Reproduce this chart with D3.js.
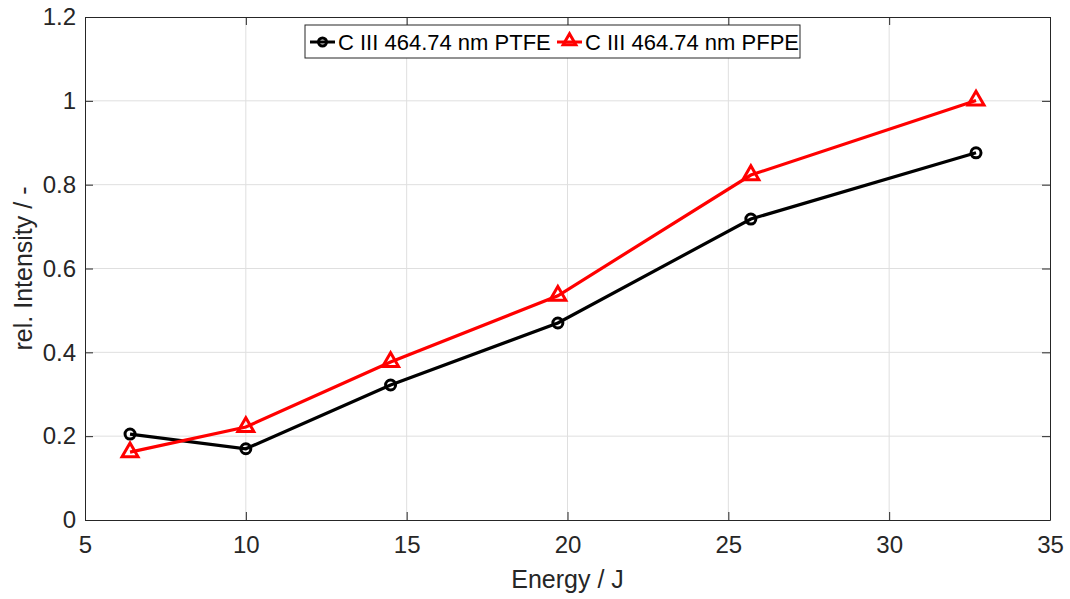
<!DOCTYPE html>
<html>
<head>
<meta charset="utf-8">
<script src="https://cdn.jsdelivr.net/npm/d3@7"></script>
<style>
  body { margin: 0; background: #fff; }
  svg { font-family: "Liberation Sans", Arial, sans-serif; }
</style>
</head>
<body>
<div id="chart"></div>
<script>
// data
const energy = [6.4, 10, 14.5, 19.7, 25.7, 32.7];
const ptfe = [0.205, 0.170, 0.322, 0.470, 0.718, 0.876];
const pfpe = [0.162, 0.222, 0.377, 0.535, 0.823, 1.001];
const xTicks = [5, 10, 15, 20, 25, 30, 35];
const yTicks = [0, 0.2, 0.4, 0.6, 0.8, 1, 1.2];

const width = 1070, height = 599;
const margin = {top: 17, right: 20, bottom: 79, left: 85};
const w = width - margin.left - margin.right;
const h = height - margin.top - margin.bottom;

const svg = d3.select("#chart").append("svg")
  .attr("width", width)
  .attr("height", height);

const g = svg.append("g")
  .attr("transform", `translate(${margin.left},${margin.top})`);

const x = d3.scaleLinear().domain([5, 35]).range([0, w]);
const y = d3.scaleLinear().domain([0, 1.2]).range([h, 0]);

// grid
g.append("g").selectAll("line")
  .data(xTicks.slice(1, -1))
  .join("line")
  .attr("x1", d => x(d)).attr("x2", d => x(d))
  .attr("y1", 0).attr("y2", h)
  .attr("stroke", "#dfdfdf").attr("stroke-width", 1);
g.append("g").selectAll("line")
  .data(yTicks.slice(1, -1))
  .join("line")
  .attr("y1", d => y(d)).attr("y2", d => y(d))
  .attr("x1", 0).attr("x2", w)
  .attr("stroke", "#dfdfdf").attr("stroke-width", 1);

// axes (ticks inward, MATLAB style)
g.append("g")
  .attr("transform", `translate(0,${h})`)
  .call(d3.axisBottom(x).tickValues(xTicks).tickSizeInner(-8).tickSizeOuter(0).tickPadding(16));
g.append("g")
  .call(d3.axisLeft(y).tickValues(yTicks).tickFormat(d3.format("~g")).tickSizeInner(-8).tickSizeOuter(0).tickPadding(9));
g.append("g")
  .call(d3.axisTop(x).tickValues(xTicks).tickSizeInner(-8).tickSizeOuter(0).tickFormat(""));
g.append("g")
  .attr("transform", `translate(${w},0)`)
  .call(d3.axisRight(y).tickValues(yTicks).tickSizeInner(-8).tickSizeOuter(0).tickFormat(""));

g.selectAll(".domain").attr("stroke", "#262626");
g.selectAll(".tick line").attr("stroke", "#262626");
g.selectAll(".tick text").attr("fill", "#262626").style("font-size", "24px");

// axis labels
g.append("text")
  .attr("x", w / 2).attr("y", h + 68)
  .attr("text-anchor", "middle")
  .attr("fill", "#262626")
  .style("font-size", "25px")
  .text("Energy / J");
g.append("text")
  .attr("transform", `translate(-53,${h / 2}) rotate(-90)`)
  .attr("text-anchor", "middle")
  .attr("fill", "#262626")
  .style("font-size", "25px")
  .text("rel. Intensity / -");

// lines
const line = d3.line().x(d => x(d[0])).y(d => y(d[1]));
const ptfeData = energy.map((e, i) => [e, ptfe[i]]);
const pfpeData = energy.map((e, i) => [e, pfpe[i]]);

g.append("path").datum(ptfeData)
  .attr("d", line).attr("fill", "none")
  .attr("stroke", "#000").attr("stroke-width", 3.2);
g.append("path").datum(pfpeData)
  .attr("d", line).attr("fill", "none")
  .attr("stroke", "#ff0000").attr("stroke-width", 3.2);

const tri = d3.symbol().type(d3.symbolTriangle).size(110);

g.selectAll(".mk1").data(ptfeData).join("circle")
  .attr("cx", d => x(d[0])).attr("cy", d => y(d[1])).attr("r", 5)
  .attr("fill", "none").attr("stroke", "#000").attr("stroke-width", 3);
g.selectAll(".mk2").data(pfpeData).join("path")
  .attr("d", tri)
  .attr("transform", d => `translate(${x(d[0])},${y(d[1])})`)
  .attr("fill", "none").attr("stroke", "#ff0000").attr("stroke-width", 3);

// legend
const lg = svg.append("g").attr("transform", "translate(305,25)");
lg.append("rect").attr("width", 495).attr("height", 33)
  .attr("fill", "#fff").attr("stroke", "#262626").attr("stroke-width", 1);
const items = [
  {label: "C III 464.74 nm PTFE", color: "#000", mk: "circle", x: 5},
  {label: "C III 464.74 nm PFPE", color: "#ff0000", mk: "tri", x: 252}
];
const triSmall = d3.symbol().type(d3.symbolTriangle).size(70);
items.forEach(it => {
  const gi = lg.append("g").attr("transform", `translate(${it.x},17)`);
  gi.append("line").attr("x1", 0).attr("x2", 25).attr("y1", 0).attr("y2", 0)
    .attr("stroke", it.color).attr("stroke-width", 3);
  if (it.mk === "circle") {
    gi.append("circle").attr("cx", 12.5).attr("cy", 0).attr("r", 4)
      .attr("fill", "none").attr("stroke", it.color).attr("stroke-width", 3);
  } else {
    gi.append("path").attr("d", triSmall).attr("transform", "translate(12.5,-1)")
      .attr("fill", "none").attr("stroke", it.color).attr("stroke-width", 3);
  }
  gi.append("text").attr("x", 28).attr("y", 8)
    .attr("fill", "#000").style("font-size", "22px")
    .text(it.label);
});
</script>
</body>
</html>
